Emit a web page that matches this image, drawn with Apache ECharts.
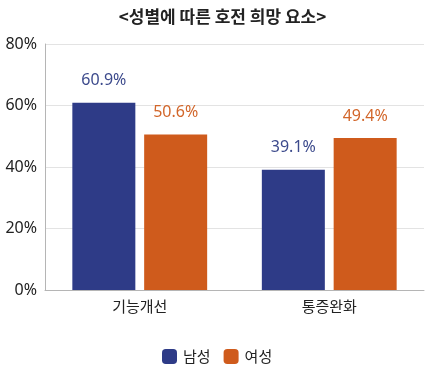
<!DOCTYPE html>
<html><head><meta charset="utf-8">
<script src="https://cdn.jsdelivr.net/npm/echarts@6/dist/echarts.min.js"></script>
<style>html,body{margin:0;padding:0;background:#fff}#c{width:445px;height:371px}</style>
</head><body><div id="c"></div>
<script>
const titleText = '<성별에 따른 호전 희망 요소>';
const categories = ['기능개선', '통증완화'];
const seriesNames = ['남성', '여성'];
const maleValues = [60.9, 39.1];
const femaleValues = [50.6, 49.4];
const yTicks = [0, 20, 40, 60, 80];

const FONT = "'Noto Sans', 'Noto Sans CJK KR', sans-serif";
const KFONT = "'Noto Sans CJK KR', sans-serif";
const BLUE = '#2E3B87', ORANGE = '#CF5B1C';
const BLUE_L = '#3C4A8C', ORANGE_L = '#D2662A';

const chart = echarts.init(document.getElementById('c'), null, {renderer: 'canvas'});
chart.setOption({
  animation: false,
  backgroundColor: '#fff',
  title: {
    text: titleText, left: 'center', top: 3,
    textStyle: {fontFamily: KFONT, fontSize: 17, fontWeight: 'bold', color: '#222'}
  },
  legend: {
    data: seriesNames, left: 157, top: 344,
    icon: 'roundRect', itemWidth: 15, itemHeight: 15, itemGap: 13,
    textStyle: {fontFamily: KFONT, fontSize: 15, color: '#222', padding: [0, 0, 0, 1]}
  },
  grid: {left: 45, right: 21, top: 44, bottom: 81},
  xAxis: {
    type: 'category', data: categories,
    axisLine: {lineStyle: {color: '#b5b5b5'}},
    axisTick: {show: false},
    axisLabel: {fontFamily: KFONT, fontSize: 15, color: '#222', margin: 9}
  },
  yAxis: {
    type: 'value', min: yTicks[0], max: yTicks[yTicks.length - 1], interval: 20,
    axisLine: {show: true, lineStyle: {color: '#b5b5b5'}},
    axisTick: {show: false},
    splitLine: {lineStyle: {color: '#e3e3e3'}},
    axisLabel: {fontFamily: FONT, fontSize: 16, color: '#222', margin: 8, formatter: v => v + '%'}
  },
  series: [
    {
      name: seriesNames[0], type: 'bar', data: maleValues, barWidth: 63, barGap: '14%',
      itemStyle: {color: BLUE},
      label: {show: true, position: 'top', distance: 14, formatter: p => p.value.toFixed(1) + '%',
        fontFamily: FONT, fontSize: 16, color: BLUE_L}
    },
    {
      name: seriesNames[1], type: 'bar', data: femaleValues, barWidth: 63, barGap: '14%',
      itemStyle: {color: ORANGE},
      label: {show: true, position: 'top', distance: 14, formatter: p => p.value.toFixed(1) + '%',
        fontFamily: FONT, fontSize: 16, color: ORANGE_L}
    }
  ]
});
</script></body></html>
